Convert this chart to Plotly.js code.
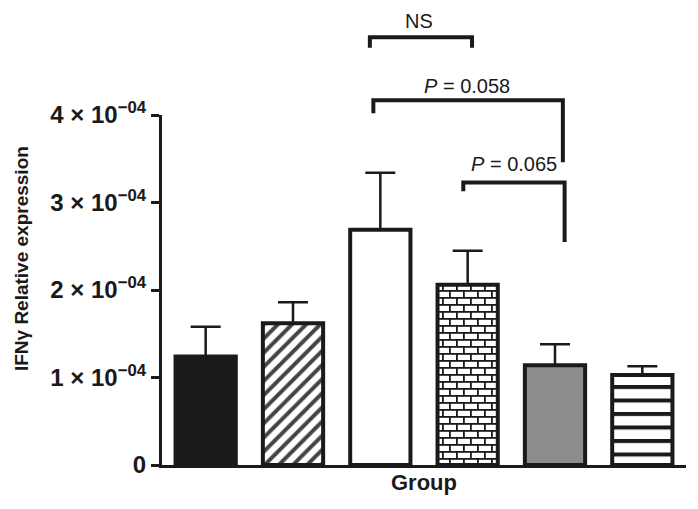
<!DOCTYPE html>
<html>
<head>
<meta charset="utf-8">
<script src="https://cdn.plot.ly/plotly-3.0.1.min.js"></script>
<style>html,body{margin:0;padding:0;background:#fff;}</style>
</head>
<body>
<div id="chart" style="width:698px;height:509px;"></div>
<script>
// ---- data ----
const groups = [0, 1, 2, 3, 4, 5];
const means = [1.24e-4, 1.62e-4, 2.69e-4, 2.06e-4, 1.14e-4, 1.03e-4];
const errUp = [0.34e-4, 0.24e-4, 0.65e-4, 0.39e-4, 0.24e-4, 0.10e-4];
const errDown = [0, 0, 0, 0, 0, 0];
const tickVals = [0, 1e-4, 2e-4, 3e-4, 4e-4];
const tickText = ['0', '1 × 10<sup>−04</sup>', '2 × 10<sup>−04</sup>', '3 × 10<sup>−04</sup>', '4 × 10<sup>−04</sup>'];
const fillColors = ['#1a1a1a', '#ffffff', '#ffffff', '#ffffff', '#8c8c8c', '#ffffff'];
const patternShapes = ['', '/', '', '+', '', '-'];
const patternSizes = [8, 10, 8, 7, 8, 14];
const patternSolid = [0.3, 0.4, 0.3, 0.2, 0.3, 0.3];
const yMax = 4e-4;

// comparison brackets: x in category units, heights in data units
const bracketX0 = [1.88, 1.92, 2.95];
const bracketX1 = [3.05, 4.09, 4.11];
const bracketY = [4.89e-4, 4.17e-4, 3.23e-4];
const bracketLeftEnd = [4.77e-4, 4.02e-4, 3.13e-4];
const bracketRightEnd = [4.77e-4, 3.46e-4, 2.55e-4];
const bracketLabels = ['NS', '<i>P</i> = 0.058', '<i>P</i> = 0.065'];
const labelX = [2.44, 2.99, 3.53];
const labelY = [5.07e-4, 4.33e-4, 3.44e-4];

const ink = '#1a1a1a';
const font = 'Liberation Sans, Arial, Helvetica, sans-serif';
const toPaper = v => v / yMax;

const trace = {
  type: 'bar',
  x: groups,
  y: means,
  marker: {
    color: fillColors,
    line: {color: ink, width: 4},
    pattern: {
      shape: patternShapes,
      fgcolor: ink,
      fgopacity: 1,
      bgcolor: fillColors,
      size: patternSizes,
      solidity: patternSolid,
      fillmode: 'overlay'
    }
  },
  error_y: {
    type: 'data', symmetric: false,
    array: errUp, arrayminus: errDown,
    color: ink, thickness: 2.5, width: 15
  },
  hoverinfo: 'none'
};

const shapes = bracketX0.map((x0, i) => ({
  type: 'path', xref: 'x', yref: 'paper',
  path: `M ${x0},${toPaper(bracketLeftEnd[i])} L ${x0},${toPaper(bracketY[i])} L ${bracketX1[i]},${toPaper(bracketY[i])} L ${bracketX1[i]},${toPaper(bracketRightEnd[i])}`,
  line: {color: ink, width: 4}
}));

const annotations = bracketLabels.map((t, i) => ({
  text: t, xref: 'x', yref: 'paper', x: labelX[i], y: toPaper(labelY[i]),
  showarrow: false, xanchor: 'center', yanchor: 'middle',
  font: {family: font, size: 20, color: ink}
}));
annotations.push({
  text: 'IFNγ Relative expression', xref: 'paper', yref: 'paper',
  x: -0.268, y: 0.59, textangle: -90, showarrow: false,
  xanchor: 'center', yanchor: 'middle',
  font: {family: font, size: 19, color: ink, weight: 'bold'}
});

const layout = {
  width: 698, height: 509,
  margin: {l: 162, r: 12, t: 115, b: 44},
  paper_bgcolor: '#fff', plot_bgcolor: '#fff',
  showlegend: false,
  bargap: 0.31,
  xaxis: {
    range: [-0.5, 5.5], showline: true, linewidth: 3, linecolor: ink,
    showticklabels: false, ticks: '', showgrid: false, zeroline: false,
    title: {text: '<b>Group</b>', standoff: 8, font: {family: font, size: 22, color: ink}}
  },
  yaxis: {
    range: [0, yMax], showline: true, linewidth: 3, linecolor: ink,
    tickvals: tickVals, ticktext: tickText, ticks: 'outside', ticklen: 8, tickwidth: 3, tickcolor: ink,
    tickfont: {family: font, size: 24, color: ink, weight: 'bold'},
    showgrid: false, zeroline: false
  },
  shapes: shapes,
  annotations: annotations
};

Plotly.newPlot('chart', [trace], layout, {staticPlot: true, responsive: false}).then(gd => {
  const svg = gd.querySelector('svg.main-svg');
  const NS = 'http://www.w3.org/2000/svg';
  let defs = svg.querySelector('defs');
  if (!defs) { defs = document.createElementNS(NS, 'defs'); svg.insertBefore(defs, svg.firstChild); }
  function addPattern(id, w, h, inner) {
    const pat = document.createElementNS(NS, 'pattern');
    pat.setAttribute('id', id);
    pat.setAttribute('patternUnits', 'userSpaceOnUse');
    pat.setAttribute('width', String(w)); pat.setAttribute('height', String(h));
    pat.innerHTML = inner;
    defs.appendChild(pat);
  }
  // brick wall
  addPattern('brickwall', 14, 14,
    '<rect x="0" y="0" width="14" height="14" fill="#ffffff"/>' +
    '<rect x="0" y="0" width="14" height="1.8" fill="' + ink + '"/>' +
    '<rect x="0" y="7" width="14" height="1.8" fill="' + ink + '"/>' +
    '<rect x="0" y="0" width="1.8" height="7" fill="' + ink + '"/>' +
    '<rect x="7" y="7" width="1.8" height="7" fill="' + ink + '"/>');
  // bold horizontal stripes
  addPattern('hstripes', 10, 13.5,
    '<rect x="0" y="0" width="10" height="13.5" fill="#ffffff"/>' +
    '<rect x="0" y="0" width="10" height="4" fill="' + ink + '"/>');
  const pts = gd.querySelectorAll('.barlayer .trace .point path');
  if (pts.length > 3) pts[3].style.fill = 'url(#brickwall)';
  if (pts.length > 5) pts[5].style.fill = 'url(#hstripes)';
});
</script>
</body>
</html>
